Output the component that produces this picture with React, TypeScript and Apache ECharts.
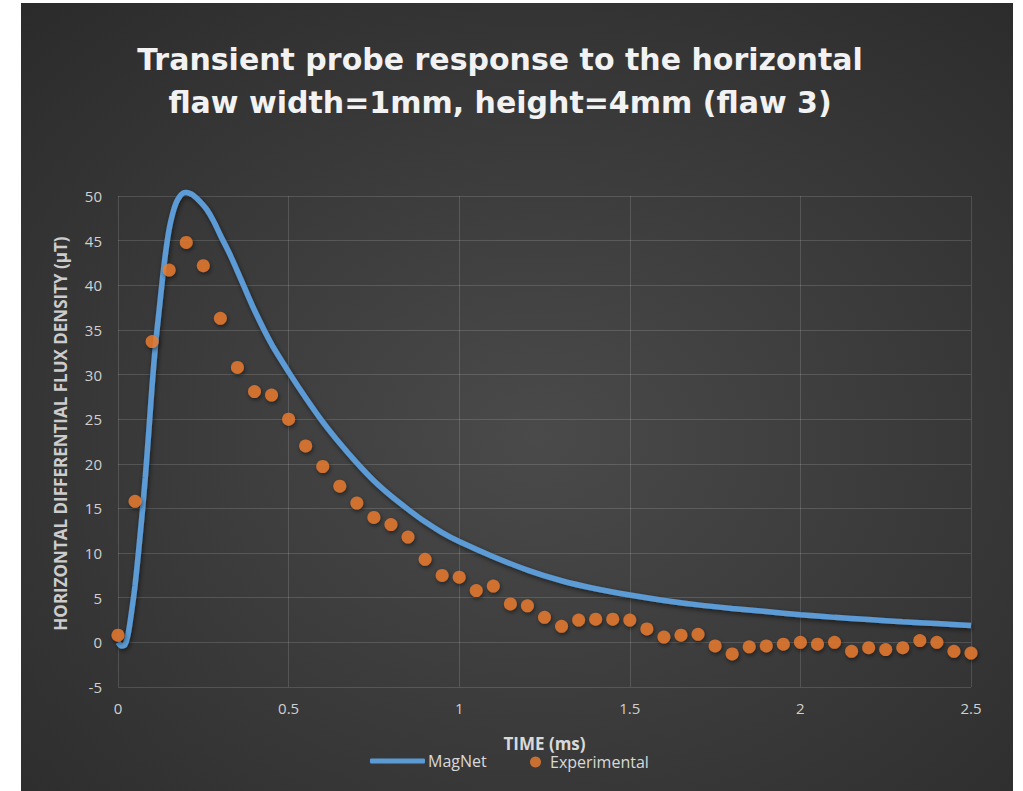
import React, { useEffect, useRef } from "react";
import * as echarts from "echarts";

const titleText = "Transient probe response to the horizontal\nflaw width=1mm, height=4mm (flaw 3)";
const xAxisName = "TIME (ms)";
const yAxisName = "HORIZONTAL DIFFERENTIAL FLUX DENSITY (μT)";

const magnetTime = [0, 0.01, 0.02, 0.03, 0.04, 0.05, 0.06, 0.07, 0.08, 0.09, 0.1, 0.11, 0.12, 0.13, 0.14, 0.15, 0.16, 0.17, 0.18, 0.19, 0.2, 0.21, 0.22, 0.24, 0.26, 0.28, 0.3, 0.33, 0.36, 0.4, 0.45, 0.5, 0.55, 0.6, 0.65, 0.7, 0.75, 0.8, 0.85, 0.9, 0.95, 1.0, 1.1, 1.2, 1.3, 1.4, 1.5, 1.6, 1.7, 1.8, 1.9, 2.0, 2.1, 2.2, 2.3, 2.4, 2.5];
const magnetValue = [0, -0.4, -0.3, 1.0, 3.5, 6.4, 10.1, 14.1, 18.5, 23.5, 28.8, 33.4, 37.0, 40.6, 43.8, 46.3, 48.0, 49.2, 49.9, 50.3, 50.4, 50.3, 50.1, 49.4, 48.5, 47.2, 45.6, 43.3, 40.7, 37.2, 33.4, 30.3, 27.4, 24.7, 22.3, 20.1, 18.1, 16.4, 14.9, 13.5, 12.3, 11.3, 9.6, 8.1, 6.9, 6.0, 5.3, 4.7, 4.2, 3.8, 3.45, 3.1, 2.8, 2.55, 2.3, 2.1, 1.9];

const expTime = [0, 0.05, 0.1, 0.15, 0.2, 0.25, 0.3, 0.35, 0.4, 0.45, 0.5, 0.55, 0.6, 0.65, 0.7, 0.75, 0.8, 0.85, 0.9, 0.95, 1.0, 1.05, 1.1, 1.15, 1.2, 1.25, 1.3, 1.35, 1.4, 1.45, 1.5, 1.55, 1.6, 1.65, 1.7, 1.75, 1.8, 1.85, 1.9, 1.95, 2.0, 2.05, 2.1, 2.15, 2.2, 2.25, 2.3, 2.35, 2.4, 2.45, 2.5];
const expValue = [0.8, 15.8, 33.7, 41.7, 44.8, 42.2, 36.3, 30.8, 28.1, 27.7, 25.0, 22.0, 19.7, 17.5, 15.6, 14.0, 13.2, 11.8, 9.3, 7.5, 7.3, 5.8, 6.3, 4.3, 4.1, 2.8, 1.8, 2.5, 2.6, 2.6, 2.5, 1.5, 0.6, 0.8, 0.9, -0.4, -1.3, -0.5, -0.4, -0.2, 0.0, -0.2, 0.0, -1.0, -0.6, -0.8, -0.6, 0.2, 0.0, -1.0, -1.2];

const FONT = "'Open Sans', Lato, sans-serif";
const TITLE_FONT = "'DejaVu Sans', 'Open Sans', sans-serif";

export default function App() {
  const ref = useRef<HTMLDivElement>(null);
  useEffect(() => {
    if (!ref.current) return;
    const chart = echarts.init(ref.current, undefined, { renderer: "svg" });
    const magnet = magnetTime.map((t, i) => [t, magnetValue[i]]);
    const exp = expTime.map((t, i) => [t, expValue[i]]);
    chart.setOption({
      animation: false,
      backgroundColor: {
        type: "radial",
        x: 0.52,
        y: 0.55,
        r: 0.75,
        colorStops: [
          { offset: 0, color: "#4a4a4a" },
          { offset: 1, color: "#2b2b2b" },
        ],
      },
      title: {
        text: titleText,
        left: 474,
        top: 30,
        textAlign: "center",
        textStyle: {
          color: "#f2f2f2",
          fontFamily: TITLE_FONT,
          fontWeight: "bold",
          fontSize: 30,
          lineHeight: 43,
        },
      },
      grid: { left: 97, right: 42, top: 193, bottom: 104, containLabel: false },
      legend: [
        {
          data: [{ name: "MagNet", icon: "roundRect" }],
          left: 349,
          top: 750,
          padding: 0,
          itemWidth: 55,
          itemHeight: 5,
          itemGap: 0,
          textStyle: { color: "#d9d9d9", fontFamily: FONT, fontSize: 16, padding: [0, 0, 0, -2] },
        },
        {
          data: [{ name: "Experimental", icon: "circle" }],
          left: 509,
          top: 751,
          padding: 0,
          itemWidth: 11,
          itemHeight: 11,
          textStyle: { color: "#d9d9d9", fontFamily: FONT, fontSize: 16, padding: [0, 0, 0, 4] },
        },
      ],
      xAxis: {
        type: "value",
        min: 0,
        max: 2.5,
        interval: 0.5,
        name: xAxisName,
        nameLocation: "middle",
        nameGap: 48,
        nameTextStyle: { color: "#d9d9d9", fontFamily: FONT, fontWeight: "bold", fontSize: 17 },
        axisLine: { show: false },
        axisTick: { show: false },
        axisLabel: { color: "#d0d0d0", fontFamily: FONT, fontSize: 15, margin: 13 },
        splitLine: { show: true, lineStyle: { color: "rgba(255,255,255,0.14)", width: 1 } },
      },
      yAxis: {
        type: "value",
        min: -5,
        max: 50,
        interval: 5,
        name: yAxisName,
        nameLocation: "middle",
        nameGap: 49,
        nameTextStyle: { color: "#cccccc", fontFamily: FONT, fontWeight: "bold", fontSize: 17, padding: [0, 0, 0, 16] },
        axisLine: { show: false },
        axisTick: { show: false },
        axisLabel: { color: "#d0d0d0", fontFamily: FONT, fontSize: 15, margin: 16 },
        splitLine: { show: true, lineStyle: { color: "rgba(255,255,255,0.14)", width: 1 } },
      },
      series: [
        {
          name: "MagNet",
          type: "line",
          data: magnet,
          showSymbol: false,
          smooth: 0.25,
          clip: false,
          lineStyle: {
            color: "#5b9bd5",
            width: 5.5,
            shadowColor: "rgba(0,0,0,0.55)",
            shadowBlur: 5,
            shadowOffsetX: 1,
            shadowOffsetY: 2,
          },
          itemStyle: { color: "#5b9bd5" },
          z: 2,
        },
        {
          name: "Experimental",
          type: "scatter",
          data: exp,
          symbol: "circle",
          symbolSize: 13,
          itemStyle: {
            color: "#ed7d31",
            shadowColor: "rgba(0,0,0,0.6)",
            shadowBlur: 4,
            shadowOffsetX: 1,
            shadowOffsetY: 2,
          },
          z: 3,
        },
      ],
    });
    return () => chart.dispose();
  }, []);
  return (
    <div style={{ position: "fixed", left: 0, top: 0, width: 1023, height: 791, background: "#ffffff" }}>
      <div ref={ref} style={{ position: "absolute", left: 21, top: 3, width: 992, height: 788 }} />
    </div>
  );
}
